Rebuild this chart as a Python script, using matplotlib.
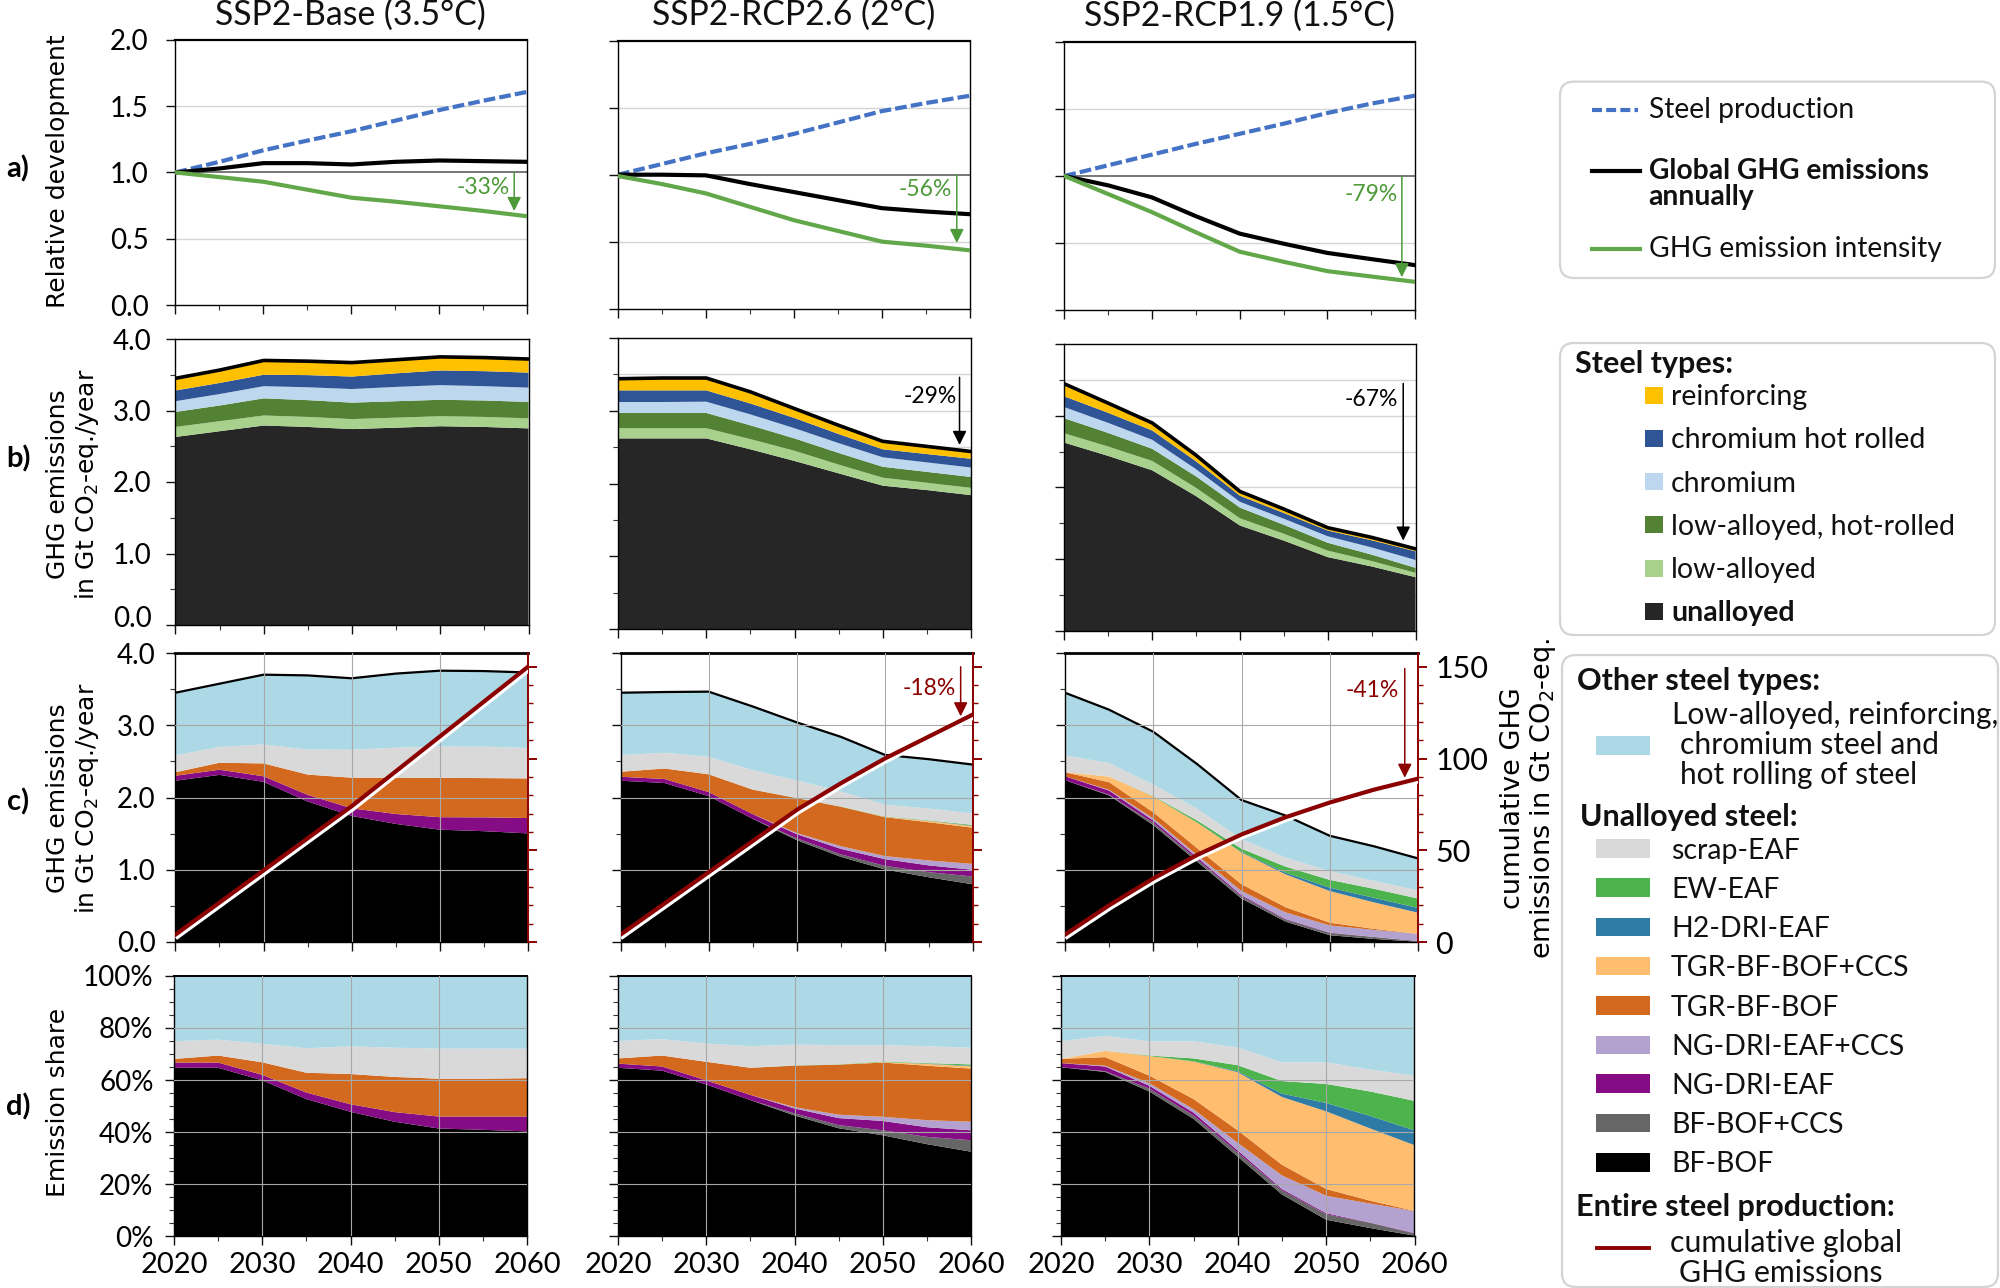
import numpy as np
import matplotlib
matplotlib.use("Agg")
import matplotlib.pyplot as plt
import matplotlib.patheffects as pe
from matplotlib.patches import FancyBboxPatch, Rectangle
from matplotlib.transforms import ScaledTranslation

plt.rcParams['font.family'] = ['Lato', 'DejaVu Sans']
plt.rcParams['mathtext.default'] = 'regular'

years = [2020, 2025, 2030, 2035, 2040, 2045, 2050, 2055, 2060]
scenarios = ['SSP2-Base (3.5°C)', 'SSP2-RCP2.6 (2°C)', 'SSP2-RCP1.9 (1.5°C)']

# row a) relative development
production_base = [1.0, 1.08, 1.167, 1.24, 1.31, 1.39, 1.47, 1.54, 1.607]
production_26 = [1.0, 1.08, 1.16, 1.23, 1.305, 1.39, 1.475, 1.535, 1.59]
production_19 = [1.0, 1.08, 1.16, 1.24, 1.315, 1.39, 1.47, 1.54, 1.60]
global_base = [1.0, 1.03, 1.07, 1.07, 1.06, 1.08, 1.09, 1.085, 1.08]
global_26 = [1.0, 1.0, 0.995, 0.93, 0.87, 0.81, 0.75, 0.725, 0.705]
global_19 = [1.0, 0.93, 0.84, 0.70, 0.57, 0.495, 0.426, 0.38, 0.335]
intensity_base = [1.0, 0.965, 0.93, 0.87, 0.81, 0.78, 0.745, 0.71, 0.67]
intensity_26 = [0.99, 0.93, 0.86, 0.76, 0.66, 0.58, 0.50, 0.47, 0.435]
intensity_19 = [1.0, 0.865, 0.73, 0.58, 0.435, 0.36, 0.29, 0.25, 0.21]

# row b) emissions by steel type, Gt
unalloyed_base = [2.63, 2.71, 2.79, 2.77, 2.74, 2.76, 2.78, 2.77, 2.75]
lowalloyed_base = [0.14, 0.14, 0.14, 0.14, 0.14, 0.14, 0.14, 0.14, 0.14]
lowhot_base = [0.21, 0.22, 0.24, 0.235, 0.23, 0.23, 0.23, 0.23, 0.23]
chromium_base = [0.15, 0.16, 0.17, 0.18, 0.19, 0.20, 0.205, 0.20, 0.20]
chromhot_base = [0.15, 0.155, 0.16, 0.17, 0.175, 0.19, 0.205, 0.21, 0.21]
reinforcing_base = [0.17, 0.18, 0.20, 0.195, 0.195, 0.19, 0.19, 0.19, 0.19]

unalloyed_26 = [2.62, 2.62, 2.62, 2.47, 2.31, 2.14, 1.97, 1.91, 1.84]
lowalloyed_26 = [0.14, 0.14, 0.14, 0.14, 0.14, 0.12, 0.11, 0.10, 0.10]
lowhot_26 = [0.21, 0.21, 0.21, 0.19, 0.17, 0.16, 0.15, 0.15, 0.15]
chromium_26 = [0.15, 0.15, 0.155, 0.15, 0.14, 0.135, 0.13, 0.13, 0.13]
chromhot_26 = [0.16, 0.16, 0.155, 0.15, 0.14, 0.125, 0.11, 0.115, 0.12]
reinforcing_26 = [0.16, 0.17, 0.17, 0.16, 0.13, 0.12, 0.11, 0.105, 0.10]

unalloyed_19 = [2.625, 2.44, 2.24, 1.88, 1.47, 1.26, 1.03, 0.90, 0.75]
lowalloyed_19 = [0.13, 0.13, 0.13, 0.115, 0.10, 0.095, 0.09, 0.075, 0.06]
lowhot_19 = [0.21, 0.19, 0.17, 0.16, 0.15, 0.125, 0.11, 0.09, 0.07]
chromium_19 = [0.155, 0.14, 0.125, 0.10, 0.08, 0.085, 0.09, 0.10, 0.11]
chromhot_19 = [0.15, 0.14, 0.13, 0.11, 0.085, 0.08, 0.08, 0.10, 0.12]
reinforcing_19 = [0.175, 0.135, 0.105, 0.085, 0.06, 0.055, 0.04, 0.04, 0.035]

# total emissions, top line of row c)
total_base = [3.45, 3.575, 3.70, 3.69, 3.65, 3.715, 3.755, 3.75, 3.73]
total_26 = [3.45, 3.46, 3.465, 3.26, 3.04, 2.84, 2.59, 2.53, 2.455]
total_19 = [3.45, 3.215, 2.91, 2.46, 1.965, 1.75, 1.47, 1.325, 1.157]

# row d) emission share by route, percent
none = [0, 0, 0, 0, 0, 0, 0, 0, 0]
bfbof_base = [64.7, 64.7, 59.9, 52.7, 47.8, 44.0, 41.4, 40.9, 40.3]
ngdri_base = [2.0, 2.0, 2.1, 2.5, 2.9, 3.7, 4.6, 5.1, 5.7]
tgr_base = [1.4, 2.7, 4.8, 7.6, 11.6, 13.5, 14.5, 14.5, 14.7]
scrap_base = [6.8, 6.1, 7.1, 9.4, 10.6, 11.2, 11.6, 11.6, 11.3]
other_base = [25.1, 24.5, 26.1, 27.8, 27.1, 27.6, 27.9, 27.9, 28.0]

bfbof_26 = [64.7, 63.6, 58.3, 52.3, 46.4, 41.5, 38.8, 35.4, 32.5]
bfccs_26 = [0, 0, 0, 0, 0.8, 1.2, 1.9, 2.8, 4.4]
ngdri_26 = [1.6, 1.6, 1.6, 2.0, 1.9, 2.7, 3.6, 3.7, 3.8]
ngccs_26 = [0, 0, 0, 0, 0.5, 1.3, 1.6, 2.7, 3.3]
tgr_26 = [2.0, 4.2, 7.1, 10.4, 15.9, 19.2, 20.8, 20.9, 20.4]
tgrccs_26 = [0, 0, 0, 0, 0, 0, 0.2, 0.7, 0.9]
h2_26 = [0, 0, 0, 0, 0, 0, 0, 0.1, 0.2]
ew_26 = [0, 0, 0, 0, 0.1, 0.1, 0.2, 0.2, 0.5]
scrap_26 = [6.7, 6.3, 7.0, 8.3, 8.0, 7.4, 6.3, 6.5, 6.4]
other_26 = [25.0, 24.3, 26.0, 27.0, 26.4, 26.6, 26.6, 27.0, 27.6]

bfbof_19 = [64.9, 63.1, 55.6, 45.1, 30.6, 16.1, 6.4, 3.2, 0.3]
bfccs_19 = [0, 0.3, 1.1, 1.3, 1.6, 1.6, 2.1, 2.0, 0.8]
ngdri_19 = [1.6, 1.8, 1.1, 1.1, 0.8, 0.5, 0.4, 0.1, 0.2]
ngccs_19 = [0, 0.3, 1.0, 1.3, 2.9, 5.2, 6.7, 7.3, 8.4]
tgr_19 = [1.6, 3.3, 2.9, 3.9, 4.8, 4.1, 2.6, 1.1, 0.1]
tgrccs_19 = [0, 2.4, 7.5, 14.4, 22.3, 26.0, 29.8, 27.7, 25.2]
h2_19 = [0, 0, 0, 0.1, 0.3, 1.3, 3.2, 4.8, 5.7]
ew_19 = [0, 0, 0.2, 1.1, 2.4, 4.8, 7.3, 9.4, 11.3]
scrap_19 = [6.8, 5.8, 5.5, 6.6, 6.8, 7.2, 8.3, 8.4, 9.7]
other_19 = [25.1, 23.0, 25.1, 25.1, 27.5, 33.2, 33.2, 36.0, 38.3]

# cumulative global emissions, right axis of row c)
cumulative_base = [4, 21.5, 39, 56.5, 74, 93, 112, 131, 150]
cumulative_26 = [4, 21, 38, 55, 72, 86.5, 100, 112, 124]
cumulative_19 = [4, 20, 34.6, 47.5, 58.6, 68, 76, 83, 89]

type_labels = ['unalloyed', 'low-alloyed', 'low-alloyed, hot-rolled', 'chromium', 'chromium hot rolled', 'reinforcing']
route_labels = ['BF-BOF', 'BF-BOF+CCS', 'NG-DRI-EAF', 'NG-DRI-EAF+CCS', 'TGR-BF-BOF', 'TGR-BF-BOF+CCS', 'H2-DRI-EAF', 'EW-EAF', 'scrap-EAF']

type_colors = ['#262626', '#A9D18E', '#548235', '#BDD7EE', '#2F5597', '#FFC000']
route_colors = ['#000000', '#666666', '#850C85', '#B3A2CF', '#D2691E', '#FFBE6F', '#2E7BA6', '#4DB34D', '#D9D9D9', '#ADD8E6']
blue_line = '#4472C4'
green_line = '#62A84A'
dark_red = '#8B0000'

production = [production_base, production_26, production_19]
global_ghg = [global_base, global_26, global_19]
intensity = [intensity_base, intensity_26, intensity_19]
totals = [total_base, total_26, total_19]
cumulative = [cumulative_base, cumulative_26, cumulative_19]
types = [[unalloyed_base, lowalloyed_base, lowhot_base, chromium_base, chromhot_base, reinforcing_base],
         [unalloyed_26, lowalloyed_26, lowhot_26, chromium_26, chromhot_26, reinforcing_26],
         [unalloyed_19, lowalloyed_19, lowhot_19, chromium_19, chromhot_19, reinforcing_19]]
shares = [[bfbof_base, none, ngdri_base, none, tgr_base, none, none, none, scrap_base, other_base],
          [bfbof_26, bfccs_26, ngdri_26, ngccs_26, tgr_26, tgrccs_26, h2_26, ew_26, scrap_26, other_26],
          [bfbof_19, bfccs_19, ngdri_19, ngccs_19, tgr_19, tgrccs_19, h2_19, ew_19, scrap_19, other_19]]

W, H = 2000, 1288
fig = plt.figure(figsize=(W / 100, H / 100), dpi=100)


def px_axes(x0, x1, y0, y1):
    # axes from pixel box, y measured from the top
    return fig.add_axes([x0 / W, 1 - y1 / H, (x1 - x0) / W, (y1 - y0) / H])


def base_style(ax, ymajor, yminor, pad, labels, lw_top=1.0, xlabels=False):
    ax.set_xlim(2020, 2060)
    ax.set_xticks([2020, 2030, 2040, 2050, 2060])
    ax.set_xticks([2025, 2035, 2045, 2055], minor=True)
    ax.set_yticks(ymajor)
    ax.set_yticks(yminor, minor=True)
    ax.tick_params(axis='both', which='major', length=6.2, width=1.0, color='#111111')
    ax.tick_params(axis='both', which='minor', length=3.6, width=0.8, color='#333333')
    ax.tick_params(axis='y', labelsize=20, pad=pad, labelleft=labels)
    ax.tick_params(axis='x', labelsize=21, pad=5, labelbottom=xlabels)
    ax.spines['top'].set_linewidth(lw_top)
    ax.spines['left'].set_linewidth(1.0)
    ax.spines['right'].set_linewidth(1.0)
    ax.spines['bottom'].set_linewidth(1.0)


def down_arrow(ax, x, y0, y1, color, text, tx, ty):
    ax.annotate('', xy=(x, y1), xytext=(x, y0),
                arrowprops=dict(arrowstyle='-|>', color=color, lw=1.1, mutation_scale=21, shrinkA=0, shrinkB=0),
                zorder=8)
    ax.text(tx, ty, text, color=color, fontsize=16.5, ha='right', va='center', zorder=8)


# pixel boxes of the panels
row_a = [(175.4, 527.4, 39.6, 305.3), (618, 970, 40.8, 308.6), (1064.4, 1415, 42, 310)]
row_b = [(175.4, 528.5, 339, 625), (618, 971, 338, 629), (1064.4, 1415.5, 344, 631)]
row_c = [(175.4, 528, 653, 942), (620.5, 973, 653, 942), (1065, 1418, 653, 942)]
row_d = [(174, 527, 975.8, 1236.4), (618, 971, 975.8, 1236.4), (1061, 1414.5, 975.8, 1236.4)]

a_pct = ['-33%', '-56%', '-79%']
a_end = [0.71, 0.49, 0.245]
a_text_y = [0.89, 0.89, 0.86]
grid_col = '#a8a8a8'

for i in range(3):
    ax = px_axes(*row_a[i])
    ax.axhline(0.5, color='#d5d5d5', lw=1.0, zorder=1)
    ax.axhline(1.5, color='#d5d5d5', lw=1.0, zorder=1)
    ax.axhline(1.0, color='#777777', lw=1.4, zorder=1)
    ax.plot(years, production[i], color=blue_line, lw=3.0, ls=(0, (2.8, 1.0)), zorder=3)
    ax.plot(years, global_ghg[i], color='black', lw=3.0, zorder=4)
    ax.plot(years, intensity[i], color=green_line, lw=3.0, zorder=4)
    ax.set_ylim(0, 2.0)
    base_style(ax, [0, 0.5, 1.0, 1.5, 2.0], [], 13, i == 0, lw_top=1.6)
    ax.set_yticklabels(['0.0', '0.5', '1.0', '1.5', '2.0'] if i == 0 else [])
    down_arrow(ax, 2058.5, 1.0, a_end[i], '#4E9A3A', a_pct[i], 2058, a_text_y[i])

    ax = px_axes(*row_b[i])
    if i > 0:
        for g in [0.5, 1, 1.5, 2, 2.5, 3, 3.5]:
            ax.axhline(g, color='#d5d5d5', lw=1.0, zorder=1)
    ax.stackplot(years, types[i], colors=type_colors, zorder=2, lw=0)
    ax.plot(years, np.sum(types[i], axis=0), color='black', lw=2.6, zorder=3)
    ax.set_ylim(0, 4.0)
    base_style(ax, [0, 1, 2, 3, 4], [0.5, 1.5, 2.5, 3.5], 11, i == 0, lw_top=1.0)
    ax.set_yticklabels(['0.0', '1.0', '2.0', '3.0', '4.0'] if i == 0 else [])
    if i == 0:
        # the 0.0 label sits a little above its tick in the original
        lab0 = ax.get_yticklabels()[0]
        lab0.set_transform(lab0.get_transform() + ScaledTranslation(0, 6 / 72, fig.dpi_scale_trans))
    if i == 1:
        down_arrow(ax, 2058.7, 3.46, 2.53, 'black', '-29%', 2058.4, 3.2)
    if i == 2:
        down_arrow(ax, 2058.6, 3.45, 1.26, 'black', '-67%', 2058, 3.22)

    ax = px_axes(*row_c[i])
    total = np.array(totals[i])
    routes = np.array(shares[i]) / 100 * total
    ax.stackplot(years, routes, colors=route_colors, zorder=2, lw=0)
    ax.plot(years, total, color='black', lw=1.6, zorder=3)
    for g in [1, 2, 3]:
        ax.axhline(g, color=grid_col, lw=0.8, zorder=4)
    for g in [2030, 2040, 2050]:
        ax.axvline(g, color=grid_col, lw=0.8, zorder=4)
    ax.set_ylim(0, 4.0)
    base_style(ax, [0, 1, 2, 3, 4], [0.5, 1.5, 2.5, 3.5], 8, i == 0, lw_top=2.0)
    ax.set_yticklabels(['0.0', '1.0', '2.0', '3.0', '4.0'] if i == 0 else [])
    ax.spines['right'].set_visible(False)

    ax2 = ax.twinx()
    ax2.set_ylim(0, 157.5)
    ax2.plot(years, cumulative[i], color=dark_red, lw=3.0, zorder=6,
             path_effects=[pe.Stroke(linewidth=3.2, foreground='white', offset=(1.5, -1.5)), pe.Normal()])
    ax2.set_yticks([0, 50, 100, 150])
    ax2.set_yticks(np.arange(0, 151, 10), minor=True)
    ax2.tick_params(axis='y', which='major', length=6.5, width=1.4, color=dark_red, labelsize=22, pad=6, labelright=i == 2)
    ax2.tick_params(axis='y', which='minor', length=3.5, width=1.0, color=dark_red)
    for s in ['top', 'left', 'bottom']:
        ax2.spines[s].set_visible(False)
    ax2.spines['right'].set_color(dark_red)
    ax2.spines['right'].set_linewidth(1.4)
    if i == 1:
        down_arrow(ax2, 2058.6, 150, 123, dark_red, '-18%', 2058, 138)
    if i == 2:
        down_arrow(ax2, 2058.5, 149, 89.5, dark_red, '-41%', 2057.8, 137)

    ax = px_axes(*row_d[i])
    ax.stackplot(years, shares[i], colors=route_colors, zorder=2, lw=0)
    for g in [20, 40, 60, 80]:
        ax.axhline(g, color=grid_col, lw=0.8, zorder=4)
    for g in [2030, 2040, 2050]:
        ax.axvline(g, color=grid_col, lw=0.8, zorder=4)
    ax.set_ylim(0, 100)
    base_style(ax, [0, 20, 40, 60, 80, 100], [v for v in range(0, 100, 5) if v % 20], 8.5, i == 0, lw_top=1.4, xlabels=True)
    ax.set_yticklabels(['0%', '20%', '40%', '60%', '80%', '100%'] if i == 0 else [])
    ax.set_xticklabels(['2020', '2030', '2040', '2050', '2060'])

# overlay in pixel coordinates for titles, side labels and legends
over = fig.add_axes([0, 0, 1, 1], facecolor='none', zorder=20)
over.set_xlim(0, W)
over.set_ylim(H, 0)
over.axis('off')

for cx, cy, name in zip([350, 794, 1239], [15, 15, 16], scenarios):
    over.text(cx, cy, name, fontsize=24.3, ha='center', va='center', color='#111111')

for y, letter in zip([169, 459, 802, 1107], ['a)', 'b)', 'c)', 'd)']):
    over.text(18, y, letter, fontsize=21, fontweight='bold', ha='center', va='center')

dj = ['DejaVu Sans']
over.text(58, 171, 'Relative development', family=dj, fontsize=18, rotation=90, ha='center', va='center')
over.text(58, 484, 'GHG emissions', family=dj, fontsize=18, rotation=90, ha='center', va='center')
over.text(87, 484, 'in Gt CO$_2$-eq./year', family=dj, fontsize=18, rotation=90, ha='center', va='center')
over.text(58, 798, 'GHG emissions', family=dj, fontsize=18, rotation=90, ha='center', va='center')
over.text(87, 798, 'in Gt CO$_2$-eq./year', family=dj, fontsize=18, rotation=90, ha='center', va='center')
over.text(58, 1102, 'Emission share', family=dj, fontsize=18, rotation=90, ha='center', va='center')
over.text(1513, 798, 'cumulative GHG', family=dj, fontsize=19.5, rotation=90, ha='center', va='center')
over.text(1543, 798, 'emissions in Gt CO$_2$-eq.', family=dj, fontsize=19.5, rotation=90, ha='center', va='center')


def box(x0, y0, x1, y1):
    over.add_patch(FancyBboxPatch((x0 + 12, y0 + 12), x1 - x0 - 24, y1 - y0 - 24,
                                  boxstyle='round,pad=12,rounding_size=14', fc='white', ec='#d4d4d4', lw=1.6))


def label(x, y, text, bold=False, size=20):
    over.text(x, y + 2, text, fontsize=size, fontweight='bold' if bold else 'normal', ha='left', va='center', color='#111111')


def swatch(x0, x1, y, h, color):
    over.add_patch(Rectangle((x0, y - h / 2), x1 - x0, h, fc=color, ec='none'))


box(1560, 81.6, 1995, 278)
over.plot([1592, 1638], [110, 110], color=blue_line, lw=3.0, ls=(0, (2.4, 1.0)))
label(1648.6, 108, 'Steel production', size=20.3)
over.plot([1592, 1640], [171, 171], color='black', lw=3.0)
label(1648.6, 169, 'Global GHG emissions', bold=True, size=20.3)
label(1648.6, 195, 'annually', bold=True, size=20.3)
over.plot([1592, 1640], [249, 249], color=green_line, lw=3.0)
label(1648.6, 247, 'GHG emission intensity', size=20.3)

box(1560, 343, 1995, 635)
label(1575, 362, 'Steel types:', bold=True, size=22)
type_y = [611, 568, 524.5, 481.6, 438, 395]
for lab, col, y in zip(type_labels, type_colors, type_y):
    swatch(1645.4, 1663, y, 17, col)
    label(1671, y, lab, bold=lab == 'unalloyed', size=20.5)

box(1562, 655, 1998, 1287)
label(1577, 678.7, 'Other steel types:', bold=True, size=22)
swatch(1596, 1650, 745.4, 18.5, route_colors[9])
label(1671.6, 712.7, 'Low-alloyed, reinforcing,', size=21.6)
label(1680, 742.5, 'chromium steel and', size=21.6)
label(1680, 772.7, 'hot rolling of steel', size=21.4)
label(1580, 814.6, 'Unalloyed steel:', bold=True, size=22)
route_y = [1162.5, 1123, 1083.6, 1045, 1005.6, 966, 927, 887.7, 848.6]
for lab, col, y in zip(route_labels, route_colors, route_y):
    swatch(1596, 1650, y, 18.5, col)
    label(1671, y, lab, size=20.5)
label(1576.5, 1205, 'Entire steel production:', bold=True, size=22)
over.plot([1597, 1648.6], [1248, 1248], color=dark_red, lw=2.8)
label(1670, 1241, 'cumulative global', size=21.8)
label(1678.6, 1271, 'GHG emissions', size=21.8)

fig.savefig('out.png', dpi=100)
